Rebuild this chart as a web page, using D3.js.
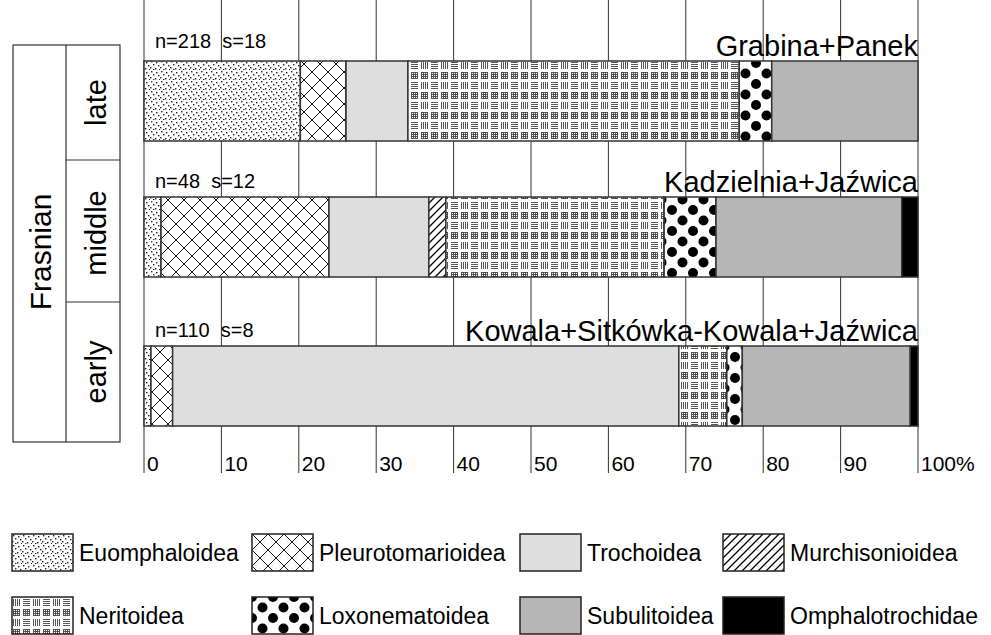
<!DOCTYPE html>
<html>
<head>
<meta charset="utf-8">
<script src="https://cdn.jsdelivr.net/npm/d3@7"></script>
<style>
  body { margin: 0; background: #fff; }
  text { font-family: "Liberation Sans", Arial, sans-serif; fill: #000; }
</style>
</head>
<body>
<svg class="chart" width="991" height="635"></svg>
<script>
// data
var taxa = ["Euomphaloidea", "Pleurotomarioidea", "Trochoidea", "Murchisonioidea",
            "Neritoidea", "Loxonematoidea", "Subulitoidea", "Omphalotrochidae"];
var periods = ["late", "middle", "early"];
var sites = ["Grabina+Panek", "Kadzielnia+Jaźwica", "Kowala+Sitkówka-Kowala+Jaźwica"];
var nCounts = [218, 48, 110];
var sCounts = [18, 12, 8];
var lateValues   = [20.2, 5.9, 8.0, 0, 42.8, 4.2, 18.9, 0];
var middleValues = [2.2, 21.7, 12.9, 2.2, 28.2, 6.7, 24.0, 2.1];
var earlyValues  = [0.9, 2.8, 65.4, 0, 6.2, 2.0, 21.7, 1.0];
var tickValues = [0, 10, 20, 30, 40, 50, 60, 70, 80, 90, 100];
var stageLabel = "Frasnian";

var svg = d3.select(".chart");

var x = d3.scaleLinear().domain([0, 100]).range([144, 918]);
var y = d3.scaleOrdinal().domain(periods).range([61, 197, 346]);
var barH = 80;

// patterns
var defs = svg.append("defs");

var p = defs.append("pattern").attr("id", "pat0").attr("patternUnits", "userSpaceOnUse")
    .attr("width", 10).attr("height", 10);
p.append("rect").attr("width", 10).attr("height", 10).attr("fill", "#fff");
[[1,1],[6,2],[3,4],[8,5],[0,7],[5,8],[9,9],[3,9]].forEach(function(d) {
    p.append("rect").attr("x", d[0]).attr("y", d[1]).attr("width", 1.4).attr("height", 1.4).attr("fill", "#222");
});

p = defs.append("pattern").attr("id", "pat1").attr("patternUnits", "userSpaceOnUse")
    .attr("width", 16).attr("height", 16);
p.append("rect").attr("width", 16).attr("height", 16).attr("fill", "#fff");
p.append("path").attr("d", "M0,0L16,16M16,0L0,16").attr("stroke", "#111").attr("stroke-width", 1);

p = defs.append("pattern").attr("id", "pat3").attr("patternUnits", "userSpaceOnUse")
    .attr("width", 8).attr("height", 8);
p.append("rect").attr("width", 8).attr("height", 8).attr("fill", "#fff");
p.append("path").attr("d", "M0,8L8,0M-2,2L2,-2M6,10L10,6").attr("stroke", "#000").attr("stroke-width", 1.3);

p = defs.append("pattern").attr("id", "pat4").attr("patternUnits", "userSpaceOnUse")
    .attr("width", 20).attr("height", 20);
p.append("rect").attr("width", 20).attr("height", 20).attr("fill", "#fff");
var nd = "";
[1.5, 3.5, 5.5, 7.5].forEach(function(v) {
    nd += "M" + v + ",2V9";                 // ||| block
    nd += "M11," + (v + 1) + "H18";         // = block
    nd += "M" + v + ",12V19M1," + (v + 11) + "H8";           // grid block
    nd += "M" + (v + 10) + ",13V18M11," + (v + 11) + "H18";  // grid block
});
p.append("path").attr("d", nd).attr("stroke", "#444").attr("stroke-width", 0.9);

p = defs.append("pattern").attr("id", "pat5").attr("patternUnits", "userSpaceOnUse")
    .attr("width", 21).attr("height", 21);
p.append("rect").attr("width", 21).attr("height", 21).attr("fill", "#fff");
[[0,0],[21,0],[0,21],[21,21],[10.5,10.5]].forEach(function(d) {
    p.append("circle").attr("cx", d[0]).attr("cy", d[1]).attr("r", 5).attr("fill", "#000");
});

var fills = ["url(#pat0)", "url(#pat1)", "#dedede", "url(#pat3)",
             "url(#pat4)", "url(#pat5)", "#b6b6b6", "#000"];
var color = d3.scaleOrdinal().domain(taxa).range(fills);

// grid lines
svg.append("g").selectAll("line")
    .data(tickValues).enter().append("line")
    .attr("x1", function(d) { return x(d); })
    .attr("x2", function(d) { return x(d); })
    .attr("y1", 0).attr("y2", 473)
    .attr("stroke", "#333").attr("stroke-width", 1);

svg.append("g").selectAll("text")
    .data(tickValues).enter().append("text")
    .attr("x", function(d) { return x(d) + 3; })
    .attr("y", 471)
    .attr("font-size", 21)
    .text(function(d) { return d === 100 ? "100%" : d; });

// stacked bars
var rows = [lateValues, middleValues, earlyValues].map(function(vals, i) {
    var r = { period: periods[i] };
    taxa.forEach(function(t, j) { r[t] = vals[j]; });
    return r;
});
var series = d3.stack().keys(taxa)(rows);

svg.append("g").selectAll("g")
    .data(series).enter().append("g")
    .attr("fill", function(d) { return color(d.key); })
    .selectAll("rect")
    .data(function(d) { return d.filter(function(e) { return e[1] - e[0] > 0; }); })
    .enter().append("rect")
    .attr("x", function(d) { return x(d[0]); })
    .attr("y", function(d) { return y(d.data.period); })
    .attr("width", function(d) { return x(d[1]) - x(d[0]); })
    .attr("height", barH)
    .attr("stroke", "#333")
    .attr("stroke-width", 1.5);

// annotations above bars
var ann = svg.append("g");
periods.forEach(function(pd, i) {
    ann.append("text")
        .attr("x", 155).attr("y", y(pd) - (i === 0 ? 13 : 9))
        .attr("font-size", 20)
        .attr("xml:space", "preserve")
        .text("n=" + nCounts[i] + "  s=" + sCounts[i]);
    ann.append("text")
        .attr("x", 918).attr("y", y(pd) - 5)
        .attr("text-anchor", "end")
        .attr("font-size", 29)
        .text(sites[i]);
});

// stratigraphic column on the left
var col = svg.append("g").attr("fill", "none").attr("stroke", "#333").attr("stroke-width", 1.2);
col.append("rect").attr("x", 13).attr("y", 45).attr("width", 107).attr("height", 397);
col.append("line").attr("x1", 66).attr("x2", 66).attr("y1", 45).attr("y2", 442);
col.append("line").attr("x1", 66).attr("x2", 120).attr("y1", 160).attr("y2", 160);
col.append("line").attr("x1", 66).attr("x2", 120).attr("y1", 302).attr("y2", 302);

svg.append("text")
    .attr("transform", "translate(51,252) rotate(-90)")
    .attr("text-anchor", "middle")
    .attr("font-size", 30)
    .text(stageLabel);

var cellMid = [102.5, 233, 372];
periods.forEach(function(pd, i) {
    svg.append("text")
        .attr("transform", "translate(106," + cellMid[i] + ") rotate(-90)")
        .attr("text-anchor", "middle")
        .attr("font-size", 29)
        .text(pd);
});

// legend
var legX = [12, 252, 520, 723];
var leg = svg.append("g").selectAll("g")
    .data(taxa).enter().append("g")
    .attr("transform", function(d, i) {
        return "translate(" + legX[i % 4] + "," + (534 + Math.floor(i / 4) * 63) + ")";
    });
leg.append("rect")
    .attr("width", 61).attr("height", 37)
    .attr("fill", function(d) { return color(d); })
    .attr("stroke", "#222").attr("stroke-width", 1.5);
leg.append("text")
    .attr("x", 67).attr("y", 19).attr("dy", "0.35em")
    .attr("font-size", 23)
    .text(function(d) { return d; });
</script>
</body>
</html>
